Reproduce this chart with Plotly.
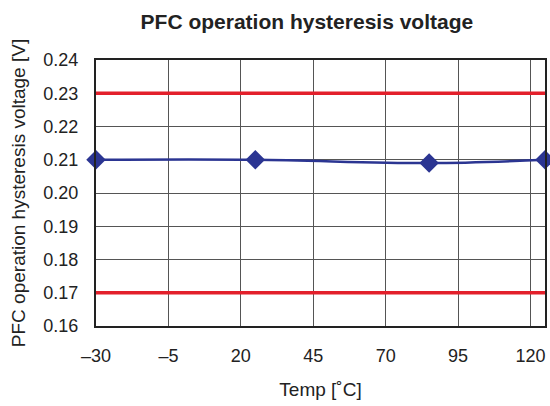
import plotly.graph_objects as go

# Measured hysteresis voltage vs. temperature
temps = [-30, 25, 85, 125]
hyst_v = [0.210, 0.210, 0.209, 0.210]

# Specification limits
upper_limit = 0.23
lower_limit = 0.17
x_range = [-30, 125]

x_ticks = [-30, -5, 20, 45, 70, 95, 120]
x_tick_text = ["\u201330", "\u20135", "20", "45", "70", "95", "120"]
y_ticks = [0.16, 0.17, 0.18, 0.19, 0.20, 0.21, 0.22, 0.23, 0.24]

fig = go.Figure()

for lim in (upper_limit, lower_limit):
    fig.add_trace(go.Scatter(
        x=x_range, y=[lim, lim], mode="lines",
        line=dict(color="#e3202b", width=3.5),
        showlegend=False, hoverinfo="skip", cliponaxis=False,
    ))

fig.add_trace(go.Scatter(
    x=temps, y=hyst_v, mode="lines+markers",
    line=dict(color="#2b3592", width=2.5, shape="spline"),
    marker=dict(symbol="diamond", size=15, color="#2b3592"),
    showlegend=False, cliponaxis=False,
))

fig.update_layout(
    width=550, height=406,
    margin=dict(l=96, r=3, t=60, b=80),
    paper_bgcolor="white", plot_bgcolor="white",
    font=dict(family="Liberation Sans, Arial, sans-serif", color="#222222", size=18),
    title=dict(
        text="<b>PFC operation hysteresis voltage</b>",
        x=0.558, xanchor="center", y=0.947, yanchor="middle",
        font=dict(size=21, color="#222222"),
    ),
    xaxis=dict(
        range=x_range, tickvals=x_ticks, ticktext=x_tick_text,
        showgrid=True, gridcolor="#555555", gridwidth=1,
        showline=True, linecolor="#222222", linewidth=2, mirror=True,
        ticks="", zeroline=False, ticklabelstandoff=12,
        tickfont=dict(size=18),
        title=dict(text="Temp [\u02daC]", font=dict(size=19), standoff=18),
    ),
    yaxis=dict(
        range=[0.16, 0.24], tickvals=y_ticks, tickformat=".2f",
        showgrid=True, gridcolor="#555555", gridwidth=1,
        showline=True, linecolor="#222222", linewidth=2, mirror=True,
        ticks="", zeroline=False, ticklabelstandoff=12,
        tickfont=dict(size=18),
        title=dict(text="PFC operation hysteresis voltage [V]", font=dict(size=19), standoff=13),
    ),
)

fig.write_html("out.html")
